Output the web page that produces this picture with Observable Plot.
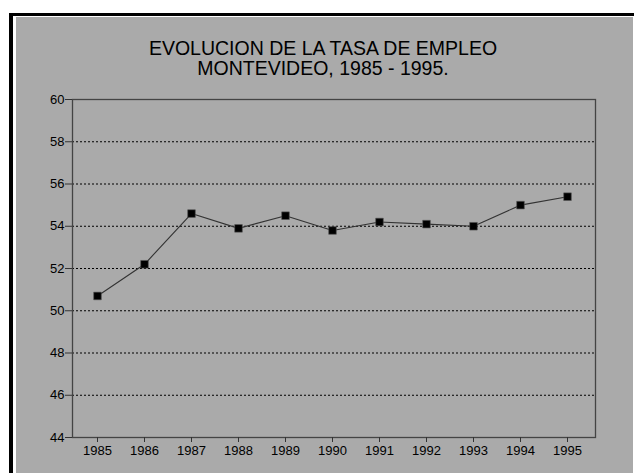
<!DOCTYPE html>
<html>
<head>
<meta charset="utf-8">
<script src="https://cdn.jsdelivr.net/npm/d3@7"></script>
<script src="https://cdn.jsdelivr.net/npm/@observablehq/plot@0.6"></script>
<style>
  html, body { margin: 0; padding: 0; background: #fff; width: 634px; height: 473px; overflow: hidden; }
  #frame { position: absolute; left: 9px; top: 13px; width: 625px; height: 460px; background: #fff;
           border-left: 4px solid #000; border-top: 3px solid #000; box-sizing: border-box; }
  #panel { position: absolute; left: 16px; top: 17px; width: 617px; height: 456px; background: #aaaaaa; }
  #title { position: absolute; left: 0; top: 38px; width: 646px; text-align: center;
           font-family: "Liberation Sans", Arial, sans-serif; font-size: 19.5px; line-height: 20px; color: #000; }
  #chart { position: absolute; left: 0; top: 80px; }
  #chart svg text { font-size: 13px; font-family: "Liberation Sans", Arial, sans-serif; fill: #000; }
</style>
</head>
<body>
<div id="frame"></div>
<div id="panel"></div>
<div id="title">EVOLUCION DE LA TASA DE EMPLEO<br>MONTEVIDEO, 1985 - 1995.</div>
<div id="chart"></div>
<script>
const years = [1985, 1986, 1987, 1988, 1989, 1990, 1991, 1992, 1993, 1994, 1995];
const tasa = [50.7, 52.2, 54.6, 53.9, 54.5, 53.8, 54.2, 54.1, 54.0, 55.0, 55.4];
const yTicks = [44, 46, 48, 50, 52, 54, 56, 58, 60];
const gridValues = [46, 48, 50, 52, 54, 56, 58];

const data = years.map((y, i) => ({year: y, value: tasa[i]}));

const chart = Plot.plot({
  width: 634,
  height: 393,
  marginLeft: 72,
  marginRight: 39,
  marginTop: 19,
  marginBottom: 36,
  style: {background: "transparent", fontFamily: "Liberation Sans, Arial, sans-serif", fontSize: "13px", color: "#000"},
  x: {type: "point", domain: years, padding: 0, insetLeft: 22, insetRight: 25},
  y: {domain: [44, 60]},
  marks: [
    Plot.ruleY(gridValues, {stroke: "#000", strokeDasharray: "2,2", strokeWidth: 1}),
    Plot.frame({stroke: "#444", strokeWidth: 1.3}),
    Plot.axisY({ticks: yTicks, tickSize: 7, tickPadding: 1, label: null, stroke: "#333", fontSize: 13}),
    Plot.axisX({ticks: years, tickSize: 5, tickPadding: 3, label: null, tickFormat: d => String(d), stroke: "#333", fontSize: 13}),
    Plot.line(data, {x: "year", y: "value", stroke: "#333", strokeWidth: 1.1}),
    Plot.dot(data, {x: "year", y: "value", symbol: "square", r: 4.3, fill: "#000", stroke: "#555", strokeWidth: 0.6})
  ]
});
document.getElementById("chart").appendChild(chart);
</script>
</body>
</html>
